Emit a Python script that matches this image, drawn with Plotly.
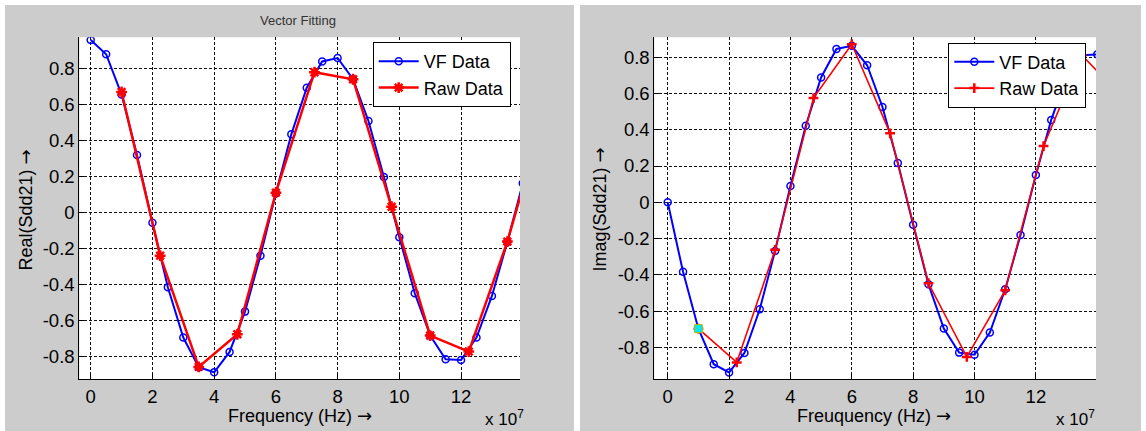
import plotly.graph_objects as go

W, H = 1146, 431

# Frequencies are in units of 1e7 Hz (axis multiplier shown as "x 10^7")
vf_freq = [0, 0.5, 1, 1.5, 2, 2.5, 3, 3.5, 4, 4.5, 5, 5.5, 6, 6.5, 7, 7.5,
           8, 8.5, 9, 9.5, 10, 10.5, 11, 11.5, 12, 12.5, 13, 13.5, 14]
raw_freq = [1, 2.25, 3.5, 4.75, 6, 7.25, 8.5, 9.75, 11, 12.25, 13.5, 14.75]

real_vf = [0.959, 0.88, 0.656, 0.32, -0.056, -0.415, -0.694, -0.859, -0.887,
           -0.774, -0.55, -0.239, 0.107, 0.435, 0.694, 0.84, 0.859, 0.741,
           0.509, 0.198, -0.137, -0.448, -0.683, -0.815, -0.819, -0.694,
           -0.463, -0.163, 0.163]
real_raw = [0.670, -0.239, -0.857, -0.676, 0.111, 0.78, 0.741, 0.033,
            -0.683, -0.772, -0.161, 0.583]

imag_vf = [0, -0.383, -0.696, -0.892, -0.937, -0.830, -0.589, -0.268, 0.090,
           0.422, 0.688, 0.845, 0.862, 0.755, 0.525, 0.217, -0.123, -0.452,
           -0.695, -0.828, -0.840, -0.717, -0.479, -0.18, 0.151, 0.454, 0.69,
           0.81, 0.815]
imag_raw = [-0.696, -0.882, -0.262, 0.574, 0.871, 0.380, -0.446, -0.852,
            -0.485, 0.310, 0.81, 0.59]

# highlighted data-cursor point on the imaginary plot
cursor_freq = [1]
cursor_imag = [-0.696]

x_ticks = [0, 2, 4, 6, 8, 10, 12]
y_ticks = [-0.8, -0.6, -0.4, -0.2, 0, 0.2, 0.4, 0.6, 0.8]
y_tick_text = ["-0.8", "-0.6", "-0.4", "-0.2", "0", "0.2", "0.4", "0.6", "0.8"]

FONT = "Liberation Sans, Arial, sans-serif"
ARROW = '<span style="font-family:DejaVu Sans">→</span>'
BLUE = "#0000FF"
RED = "#FF0000"
PANEL = "#CCCCCC"


def px(x):
    return x / W


def py(y):
    return 1 - y / H


# axes boxes in pixels: (left, right, top, bottom)
AX1 = (79.3, 520.0, 37.3, 379.3)
AX2 = (654.3, 1096.0, 37.3, 379.3)

fig = go.Figure()

# --- left: real part ---
fig.add_trace(go.Scatter(
    x=vf_freq, y=real_vf, mode="lines+markers", name="VF Data",
    line=dict(color=BLUE, width=2),
    marker=dict(symbol="circle-open", size=7, color=BLUE, line=dict(width=1.5)),
    xaxis="x", yaxis="y", legend="legend"))
fig.add_trace(go.Scatter(
    x=raw_freq, y=real_raw, mode="lines+markers", name="Raw Data",
    line=dict(color=RED, width=2.5),
    marker=dict(symbol="asterisk-open", size=9, color=RED, line=dict(width=2.5, color=RED)),
    xaxis="x", yaxis="y", legend="legend"))

# --- right: imaginary part ---
fig.add_trace(go.Scatter(
    x=vf_freq, y=imag_vf, mode="lines+markers", name="VF Data",
    line=dict(color=BLUE, width=2),
    marker=dict(symbol="circle-open", size=7, color=BLUE, line=dict(width=1.5)),
    xaxis="x2", yaxis="y2", legend="legend2"))
fig.add_trace(go.Scatter(
    x=raw_freq, y=imag_raw, mode="lines+markers", name="Raw Data",
    line=dict(color=RED, width=1.6),
    marker=dict(symbol="cross-thin-open", size=7, color=RED, line=dict(width=2.5, color=RED)),
    xaxis="x2", yaxis="y2", legend="legend2"))
fig.add_trace(go.Scatter(
    x=cursor_freq, y=cursor_imag, mode="markers", showlegend=False,
    marker=dict(symbol="square", size=8, color="#00E8F0",
                line=dict(width=1, color="#B8B800")),
    xaxis="x2", yaxis="y2"))


def axis_common():
    return dict(
        showgrid=True, gridcolor="#111111", gridwidth=1, griddash="3px,2px",
        zeroline=False, showline=True, linecolor="black", linewidth=1,
        ticks="inside", ticklen=5, tickcolor="black",
        tickfont=dict(family=FONT, size=18.5, color="black"),
        mirror=False, fixedrange=True,
    )


xa1 = axis_common()
xa1.update(domain=[px(AX1[0]), px(AX1[1])], range=[-0.37, 13.91],
           tickvals=x_ticks, anchor="y")
ya1 = axis_common()
ya1.update(domain=[py(AX1[3]), py(AX1[2])], range=[-0.926, 0.974],
           tickvals=y_ticks, ticktext=y_tick_text, anchor="x")
xa2 = axis_common()
xa2.update(domain=[px(AX2[0]), px(AX2[1])], range=[-0.437, 13.96],
           tickvals=x_ticks, anchor="y2")
ya2 = axis_common()
ya2.update(domain=[py(AX2[3]), py(AX2[2])], range=[-0.975, 0.909],
           tickvals=y_ticks, ticktext=y_tick_text, anchor="x2")

shapes = [
    # grey figure panels
    dict(type="rect", xref="paper", yref="paper", x0=px(5), x1=px(574),
         y0=0, y1=py(5), fillcolor=PANEL, line=dict(width=0), layer="below"),
    dict(type="rect", xref="paper", yref="paper", x0=px(580), x1=px(1141),
         y0=0, y1=py(5), fillcolor=PANEL, line=dict(width=0), layer="below"),
    # white plotting areas
    dict(type="rect", xref="paper", yref="paper", x0=px(AX1[0]), x1=px(AX1[1]),
         y0=py(AX1[3]), y1=py(AX1[2]), fillcolor="white", line=dict(width=0), layer="below"),
    dict(type="rect", xref="paper", yref="paper", x0=px(AX2[0]), x1=px(AX2[1]),
         y0=py(AX2[3]), y1=py(AX2[2]), fillcolor="white", line=dict(width=0), layer="below"),
]

label_font = dict(family=FONT, size=18, color="black")
mult_font = dict(family=FONT, size=17, color="black")
annotations = [
    dict(text="Vector Fitting", x=px(297.7), y=py(20), xref="paper", yref="paper",
         showarrow=False, font=dict(family=FONT, size=13, color="#333333"),
         xanchor="center", yanchor="middle"),
    dict(text="Frequency (Hz) " + ARROW, x=px(299.7), y=py(415), xref="paper", yref="paper",
         showarrow=False, font=label_font, xanchor="center", yanchor="middle"),
    dict(text="Real(Sdd21) " + ARROW, x=px(24.5), y=py(210), xref="paper", yref="paper",
         showarrow=False, font=label_font, textangle=-90,
         xanchor="center", yanchor="middle"),
    dict(text="x 10<sup>7</sup>", x=px(526), y=py(431), xref="paper", yref="paper",
         showarrow=False, font=mult_font, xanchor="right", yanchor="bottom"),
    dict(text="Freuquency (Hz) " + ARROW, x=px(873.6), y=py(415), xref="paper", yref="paper",
         showarrow=False, font=label_font, xanchor="center", yanchor="middle"),
    dict(text="Imag(Sdd21) " + ARROW, x=px(599.5), y=py(209), xref="paper", yref="paper",
         showarrow=False, font=label_font, textangle=-90,
         xanchor="center", yanchor="middle"),
    dict(text="x 10<sup>7</sup>", x=px(1097), y=py(431), xref="paper", yref="paper",
         showarrow=False, font=mult_font, xanchor="right", yanchor="bottom"),
]


def legend_box(left, top):
    return dict(x=px(left), y=py(top), xanchor="left", yanchor="top",
                bgcolor="white", bordercolor="black", borderwidth=1,
                font=dict(family=FONT, size=18, color="black"),
                itemwidth=40, tracegroupgap=0)


fig.update_layout(
    width=W, height=H,
    margin=dict(l=0, r=0, t=0, b=0),
    paper_bgcolor="white", plot_bgcolor="rgba(0,0,0,0)",
    xaxis=xa1, yaxis=ya1, xaxis2=xa2, yaxis2=ya2,
    shapes=shapes, annotations=annotations,
    legend=legend_box(372.7, 42),
    legend2=legend_box(948.3, 42.5),
    showlegend=True,
)

fig.write_html("out.html")
